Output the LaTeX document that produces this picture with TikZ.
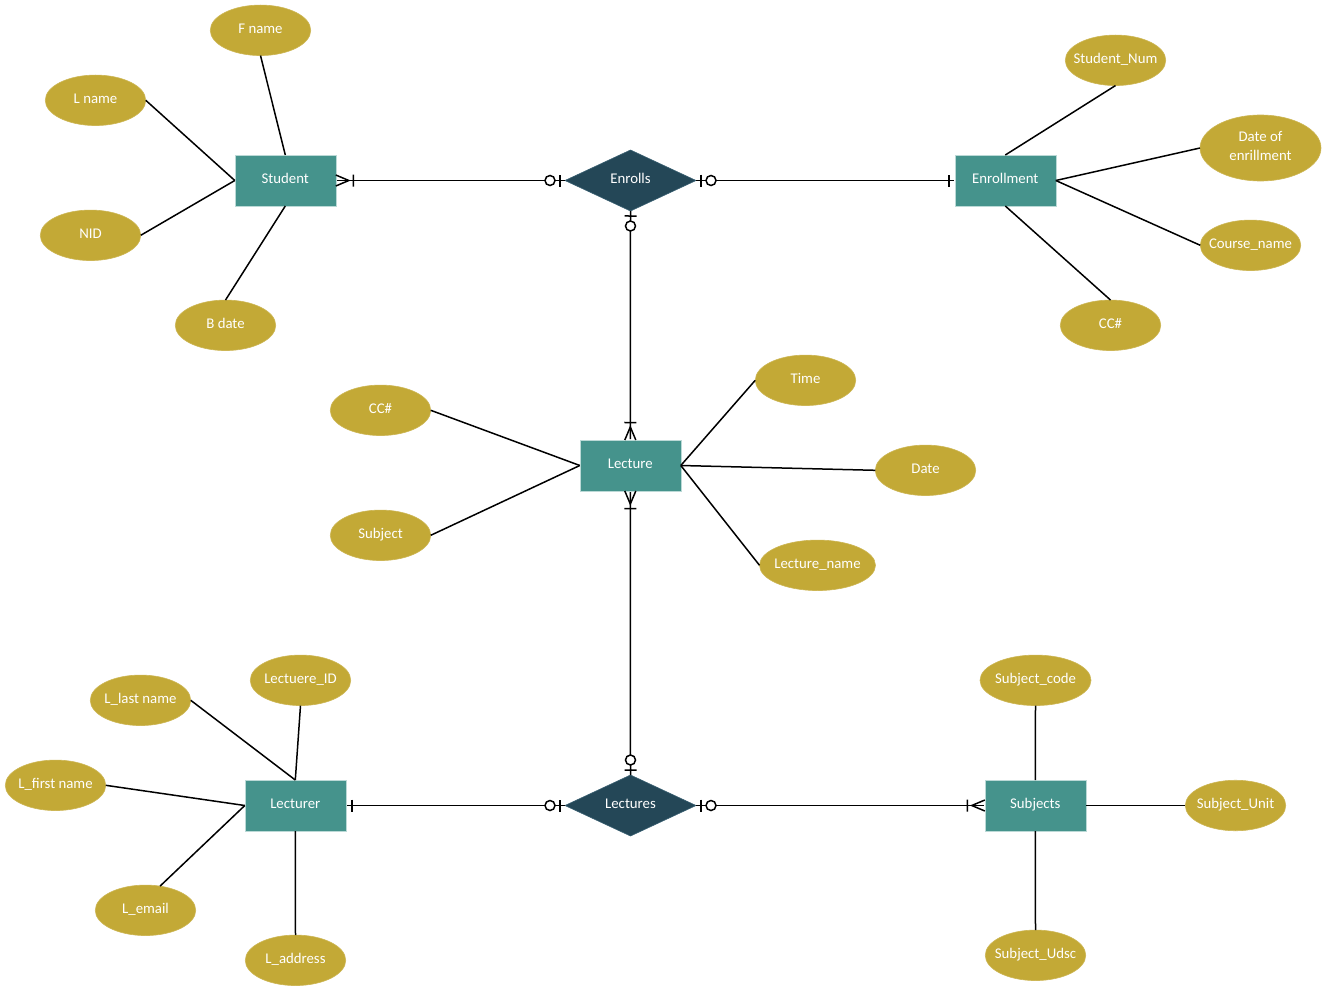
\documentclass[tikz,border=0pt]{standalone}
\usepackage{fontspec}
\setmainfont{Carlito}
\usetikzlibrary{arrows.meta,shapes.geometric}
\definecolor{attrfill}{HTML}{C3A936}
\definecolor{attredge}{HTML}{CDB655}
\definecolor{entfill}{HTML}{45938C}
\definecolor{entedge}{HTML}{BBD9D6}
\definecolor{relfill}{HTML}{244757}
\definecolor{reledge}{HTML}{3A6072}
\makeatletter
\pgfdeclarearrow{name=OneBar,
  setup code={\pgfarrowssettipend{0pt}\pgfarrowssetlineend{-1pt}\pgfarrowssetvisualbackend{-6pt}\pgfarrowssetbackend{-7pt}},
  drawing code={\pgfsetdash{}{0pt}\pgfsetbuttcap
    \pgfpathmoveto{\pgfpoint{-6pt}{-6pt}}\pgfpathlineto{\pgfpoint{-6pt}{6pt}}\pgfusepathqstroke}}
\pgfdeclarearrow{name=ZeroBar,
  setup code={\pgfarrowssettipend{0pt}\pgfarrowssetlineend{-19pt}\pgfarrowssetvisualbackend{-20pt}\pgfarrowssetbackend{-20pt}},
  drawing code={\pgfsetdash{}{0pt}\pgfsetbuttcap
    \pgfpathmoveto{\pgfpoint{-5pt}{-6pt}}\pgfpathlineto{\pgfpoint{-5pt}{6pt}}
    \pgfpathmoveto{\pgfpoint{-10pt}{0pt}}\pgfpathlineto{\pgfpoint{0pt}{0pt}}\pgfusepathqstroke
    \pgfsetfillcolor{white}
    \pgfpathcircle{\pgfpoint{-15pt}{0pt}}{5pt}\pgfusepathqfillstroke}}
\pgfdeclarearrow{name=CrowBar,
  setup code={\pgfarrowssettipend{0pt}\pgfarrowssetlineend{-1pt}\pgfarrowssetvisualbackend{-18pt}\pgfarrowssetbackend{-18pt}},
  drawing code={\pgfsetdash{}{0pt}\pgfsetbuttcap\pgfsetmiterjoin
    \pgfpathmoveto{\pgfpoint{0pt}{-5.5pt}}\pgfpathlineto{\pgfpoint{-13pt}{0pt}}\pgfpathlineto{\pgfpoint{0pt}{5.5pt}}
    \pgfpathmoveto{\pgfpoint{-17.5pt}{-6pt}}\pgfpathlineto{\pgfpoint{-17.5pt}{6pt}}\pgfusepathqstroke}}
\makeatother
\tikzset{
  x=1pt,y=-1pt,
  label text/.style={text=white,font=\fontsize{14.8}{19}\selectfont,inner sep=0pt,outer sep=0pt,text height=9pt,text depth=4pt,align=center},
  attr/.style={label text,ellipse,inner xsep=-18pt,text height=10pt,fill=attrfill,draw=attredge,line width=.6pt,minimum width=100.5pt,minimum height=50.5pt},
  entity/.style={label text,rectangle,fill=entfill,draw=entedge,line width=.6pt,minimum width=101pt,minimum height=51pt},
  rel/.style={label text,diamond,fill=relfill,draw=reledge,line width=.6pt,minimum width=131pt,minimum height=61pt,aspect=2.17},
  link/.style={draw=black,line width=1.5pt},
}
\begin{document}
\begin{tikzpicture}
\useasboundingbox (0,0) rectangle (1325,990);
% entities and relationships
\node[entity] (student) at (285.3,180.5) {Student};
\node[entity] (enrollment) at (1005.3,180.5) {Enrollment};
\node[entity] (lecture) at (630.3,465.5) {Lecture};
\node[entity] (lecturer) at (295.3,805.5) {Lecturer};
\node[entity] (subjects) at (1035.3,805.5) {Subjects};
\node[rel] (enrolls) at (630.5,180.5) {Enrolls};
\node[rel] (lectures) at (630.5,805.5) {Lectures};
% attributes
\node[attr] (fname) at (260.5,30.3) {F name};
\node[attr] (lname) at (95.5,100.3) {L name};
\node[attr] (nid) at (90.5,235.3) {NID};
\node[attr] (bdate) at (225.5,325.3) {B date};
\node[attr] (studentnum) at (1115.5,60.3) {Student\_Num};
\node[attr,minimum width=121pt,minimum height=66pt,text height=25pt,text depth=0pt] (dateenroll) at (1260.5,148) {Date of\\enrillment};
\node[attr] (coursename) at (1250.5,245.3) {Course\_name};
\node[attr] (ccb) at (1110.5,325.3) {CC\#};
\node[attr] (cca) at (380.5,410.3) {CC\#};
\node[attr] (subject) at (380.5,535.3) {Subject};
\node[attr] (time) at (805.5,380.3) {Time};
\node[attr] (date) at (925.5,470.3) {Date};
\node[attr,minimum width=116pt] (lecturename) at (817.5,565.3) {Lecture\_name};
\node[attr] (lectid) at (300.5,680.3) {Lectuere\_ID};
\node[attr] (llast) at (140.5,700.3) {L\_last name};
\node[attr] (lfirst) at (55.5,785.3) {L\_first name};
\node[attr] (lemail) at (145.5,910.3) {L\_email};
\node[attr] (laddress) at (295.5,960.3) {L\_address};
\node[attr,minimum width=111pt] (subjcode) at (1035.5,680.3) {Subject\_code};
\node[attr] (subjunit) at (1235.5,805.5) {Subject\_Unit};
\node[attr] (subjudsc) at (1035.5,955.3) {Subject\_Udsc};
% attribute links
\draw[link] (fname.south) -- (student.north);
\draw[link] (lname.east) -- (student.west);
\draw[link] (nid.east) -- (student.west);
\draw[link] (bdate.north) -- (student.south);
\draw[link] (studentnum.south) -- (enrollment.north);
\draw[link] (dateenroll.west) -- (enrollment.east);
\draw[link] (coursename.west) -- (enrollment.east);
\draw[link] (ccb.north) -- (enrollment.south);
\draw[link] (cca.east) -- (lecture.west);
\draw[link] (subject.east) -- (lecture.west);
\draw[link] (time.west) -- (lecture.east);
\draw[link] (date.west) -- (lecture.east);
\draw[link] (lecturename.west) -- (lecture.east);
\draw[link] (lectid.south) -- (lecturer.north);
\draw[link] (llast.east) -- (lecturer.north);
\draw[link] (lfirst.east) -- (lecturer.west);
\draw[link] (lemail.59) -- (lecturer.west);
\draw[link] (laddress.north) -- (lecturer.south);
\draw[link] (subjcode.south) -- (subjects.north);
\draw[link] (subjunit.west) -- (subjects.east);
\draw[link] (subjudsc.north) -- (subjects.south);
% relationship links
\draw[link,{CrowBar}-{ZeroBar}] (student.east) -- (enrolls.west);
\draw[link,{ZeroBar}-{OneBar}] (enrolls.east) -- (enrollment.west);
\draw[link,{ZeroBar}-{CrowBar}] (enrolls.south) -- (lecture.north);
\draw[link,{CrowBar}-{ZeroBar}] (lecture.south) -- (lectures.north);
\draw[link,{OneBar}-{ZeroBar}] (lecturer.east) -- (lectures.west);
\draw[link,{ZeroBar}-{CrowBar}] (lectures.east) -- (subjects.west);
\end{tikzpicture}
\end{document}
